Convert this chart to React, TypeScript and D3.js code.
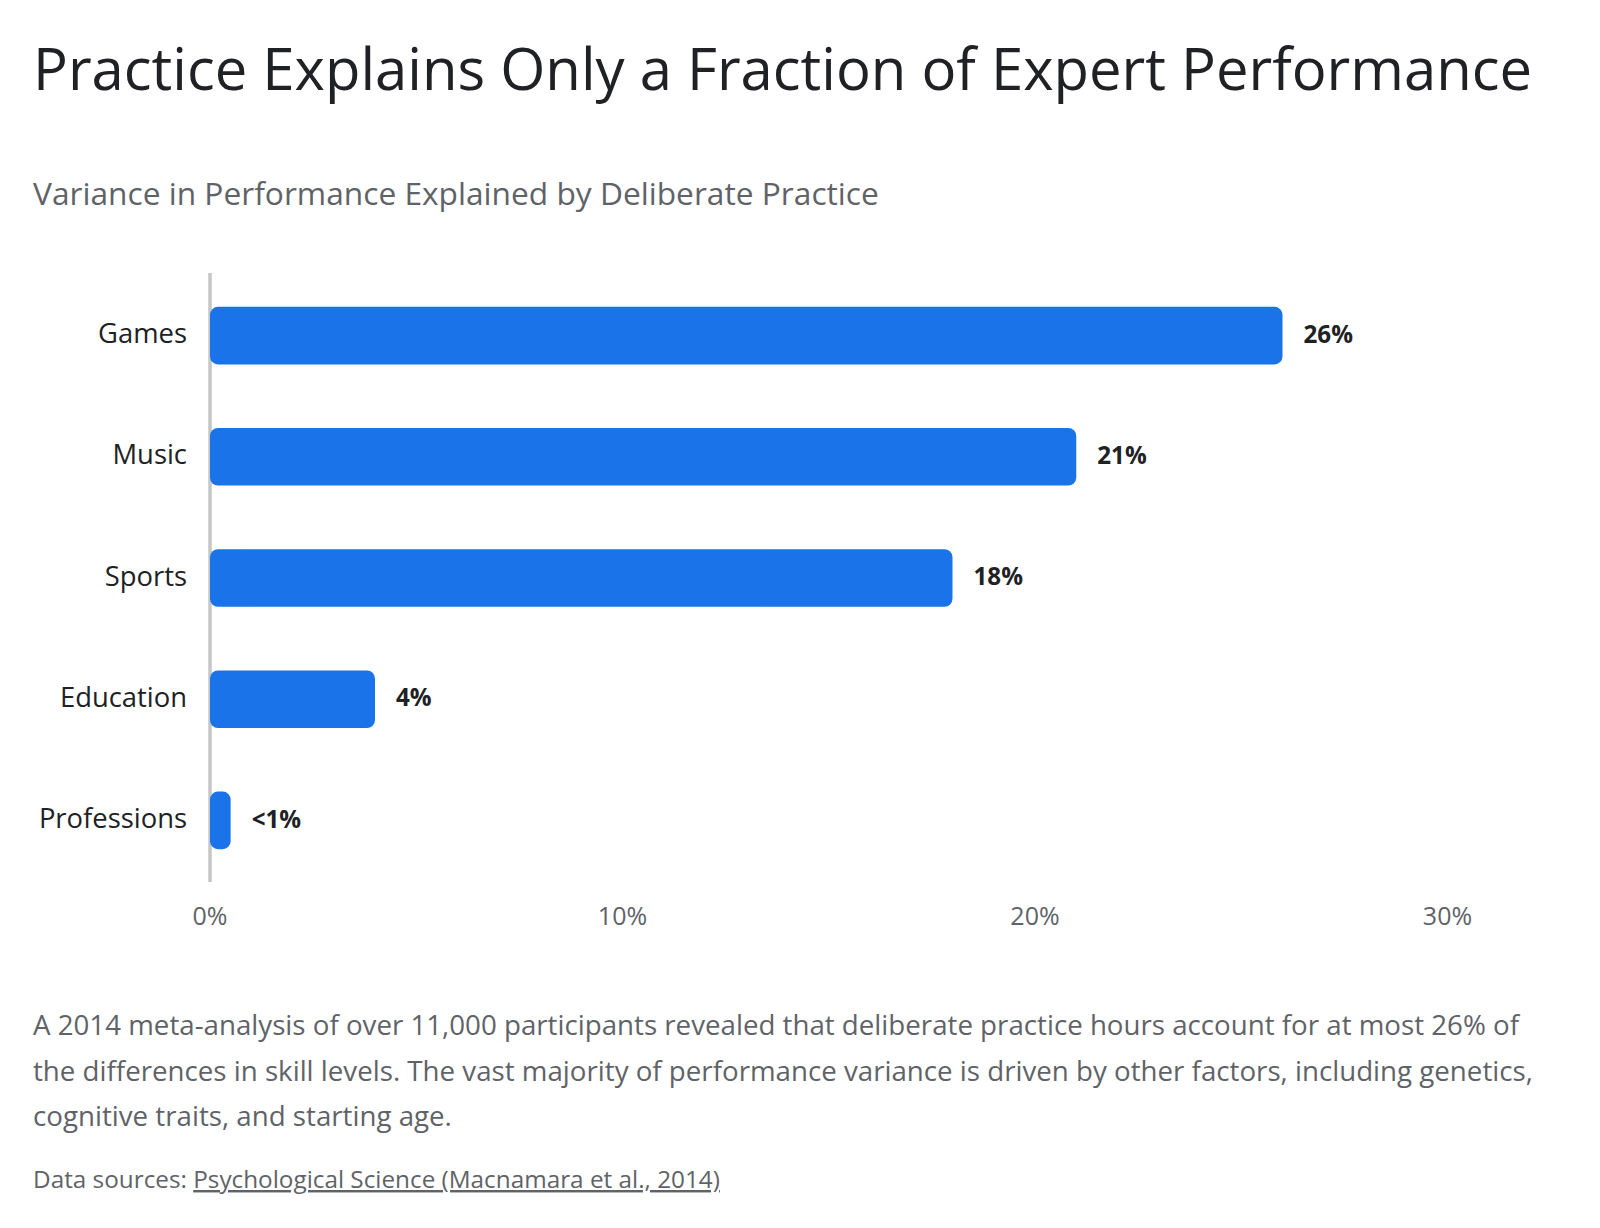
import React from 'react';
import * as d3 from 'd3';

// Share of performance variance explained by deliberate practice, by domain
const domains = ['Games', 'Music', 'Sports', 'Education', 'Professions'];
const variancePct = [26, 21, 18, 4, 0.5];
const valueLabels = ['26%', '21%', '18%', '4%', '<1%'];
const xTicks = [0, 10, 20, 30];

const title = 'Practice Explains Only a Fraction of Expert Performance';
const subtitle = 'Variance in Performance Explained by Deliberate Practice';
const noteLines = [
  'A 2014 meta-analysis of over 11,000 participants revealed that deliberate practice hours account for at most 26% of',
  'the differences in skill levels. The vast majority of performance variance is driven by other factors, including genetics,',
  'cognitive traits, and starting age.',
];
const sourcePrefix = 'Data sources: ';
const sourceLink = 'Psychological Science (Macnamara et al., 2014)';

const W = 1600;
const H = 1228;
const FONT = '"Open Sans", "Noto Sans", Roboto, sans-serif';
const BLUE = '#1a73e8';
const INK = '#202124';
const GREY = '#5f6368';

const App = () => {
  const x = d3.scaleLinear().domain([0, 30]).range([210, 1447.5]);
  const y = d3
    .scaleBand<string>()
    .domain(domains)
    .range([275, 881])
    .paddingInner(0.525)
    .paddingOuter(0.2625);

  return (
    <svg
      width={W}
      height={H}
      viewBox={`0 0 ${W} ${H}`}
      style={{ position: 'absolute', left: 0, top: 0, background: '#fff' }}
      fontFamily={FONT}
    >
      <text x={33} y={90} fontSize={58} fill={INK}>
        {title}
      </text>
      <text x={33} y={205} fontSize={31.7} fill={GREY}>
        {subtitle}
      </text>

      {/* baseline axis */}
      <line x1={x(0)} x2={x(0)} y1={273} y2={882} stroke="#c6c6c6" strokeWidth={3.5} />

      {domains.map((d, i) => {
        const y0 = y(d) ?? 0;
        const cy = y0 + y.bandwidth() / 2;
        const x1 = x(variancePct[i]);
        return (
          <g key={d}>
            <rect
              x={x(0)}
              y={y0}
              width={x1 - x(0)}
              height={y.bandwidth()}
              rx={8}
              ry={8}
              fill={BLUE}
            />
            <text x={187} y={cy} dy="0.28em" textAnchor="end" fontSize={27.4} fill={INK}>
              {d}
            </text>
            <text x={x1 + 21} y={cy} dy="0.3em" fontSize={24.2} fontWeight={700} fill={INK}>
              {valueLabels[i]}
            </text>
          </g>
        );
      })}

      {xTicks.map((t) => (
        <text key={t} x={x(t)} y={925} textAnchor="middle" fontSize={25} fill={GREY}>
          {`${t}%`}
        </text>
      ))}

      {noteLines.map((line, i) => (
        <text key={i} x={33} y={1035 + i * 45.5} fontSize={27.7} fill={GREY}>
          {line}
        </text>
      ))}

      <text x={33} y={1188} fontSize={24.3} fill={GREY}>
        {sourcePrefix}
        <tspan textDecoration="underline">{sourceLink}</tspan>
      </text>
    </svg>
  );
};

export default App;
